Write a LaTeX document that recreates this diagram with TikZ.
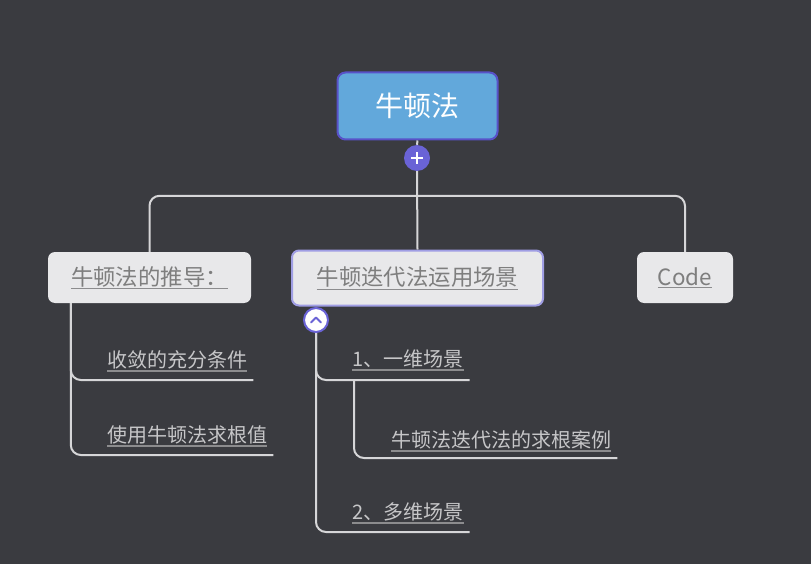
\documentclass[tikz,border=0pt]{standalone}
\usepackage{fontspec}
\setmainfont{Noto Sans CJK SC}
\usetikzlibrary{calc}
\definecolor{bg}{HTML}{3A3B40}
\definecolor{rootfill}{HTML}{62A8DB}
\definecolor{rootline}{HTML}{5852C8}
\definecolor{boxfill}{HTML}{E8E8EA}
\definecolor{boxtext}{HTML}{7E7E7E}
\definecolor{selline}{HTML}{A09EE4}
\definecolor{knob}{HTML}{6A63D6}
\definecolor{linkcol}{HTML}{D6D6D8}
\definecolor{leaftext}{HTML}{C6C6C8}
\definecolor{ulcol}{HTML}{8C8C8E}
% underlined topic text
\newcommand{\topicul}[1]{{\color{ulcol}\underline{\textcolor{boxtext}{#1}}}}
\begin{document}
\begin{tikzpicture}[x=1pt, y=-1pt,
  root/.style={rectangle, rounded corners=8pt, draw=rootline, line width=2pt, fill=rootfill, text=white, minimum width=160pt, minimum height=67pt, font=\fontsize{28}{32}\selectfont},
  topic/.style={rectangle, rounded corners=7pt, fill=boxfill, text=boxtext, minimum height=51pt, font=\fontsize{22.4}{26}\selectfont},
  leaf/.style={inner sep=0pt, anchor=base west, text=leaftext, font=\fontsize{20}{24}\selectfont},
  knobc/.style={circle, inner sep=0pt, minimum size=26pt},
  link/.style={linkcol, line width=2pt, rounded corners=10pt},
  ul/.style={line width=1.6pt}]
\useasboundingbox[fill=bg] (0,0) rectangle (811,564);
% central topic
\node[root] (root) at (417.5,106) {牛顿法};
\node[knobc, fill=knob] (plus) at (417,158) {};
\draw[white, line width=2pt] ([xshift=-6pt]plus.center) -- ([xshift=6pt]plus.center)
  ([yshift=-6pt]plus.center) -- ([yshift=6pt]plus.center);
% main topics
\node[topic, minimum width=203pt] (b1) at (149.5,277.5) {\topicul{牛顿法的推导：}};
\node[topic, minimum width=251pt, minimum height=55pt, draw=selline, line width=2pt] (b2) at (417.5,278) {\topicul{牛顿迭代法运用场景}};
\node[topic, minimum width=96pt] (b3) at (685,277.5) {\topicul{Code}};
\draw[link] (root.south) -- (plus.north);
\draw[link] (plus.south) -- (b2.north);
\draw[link] (b1.north) -- ++(0,-56) -| (b3.north);
% subtopics
\node[leaf] (c1) at (107,367) {收敛的充分条件};
\node[leaf] (c2) at (107,442) {使用牛顿法求根值};
\node[leaf] (m1) at (352,366) {1、一维场景};
\node[leaf] (m11) at (391,447) {牛顿法迭代法的求根案例};
\node[leaf] (m2) at (352,519) {2、多维场景};
\node[knobc, fill=white, draw=knob, line width=2pt, minimum size=24pt] (fold) at (316,320) {};
\draw[knob, line width=2pt, line cap=round, line join=round] ($(fold.center)+(-5,2.5)$) -- ($(fold.center)+(0,-2.5)$) -- ($(fold.center)+(5,2.5)$);
% branches
\draw[link] ($(b1.south west)+(23,0)$) |- ($(c1.base east)+(6,13)$);
\draw[link] ($(b1.south west)+(23,0)$) |- ($(c2.base east)+(6,13)$);
\draw[link] (fold.south) |- ($(m1.base east)+(6,14)$);
\draw[link] (fold.south) |- ($(m2.base east)+(6,13)$);
\draw[link] ($(m1.base west)+(2,14)$) |- ($(m11.base east)+(6,11)$);
% underlines
\foreach \n in {c1,c2,m1,m11,m2}
  \draw[ul, ulcol] ($(\n.base west)+(0,4)$) -- ($(\n.base east)+(0,4)$);
\end{tikzpicture}
\end{document}
